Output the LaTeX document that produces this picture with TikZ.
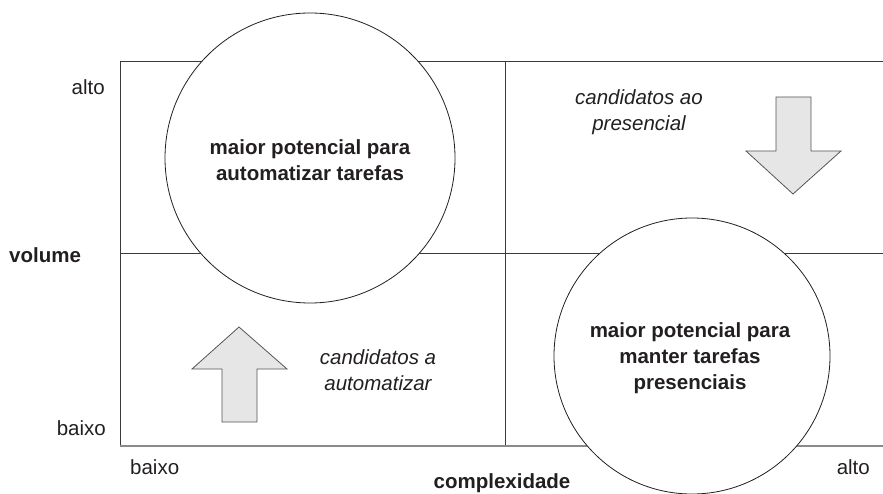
\documentclass[tikz,border=0pt]{standalone}
\usepackage{fontspec}
\setmainfont{Liberation Sans}
\definecolor{ink}{HTML}{231F20}
\definecolor{gridc}{HTML}{3A3A3A}
\definecolor{axisc}{HTML}{8A8A8A}
\definecolor{arrowfill}{HTML}{E6E6E6}
\definecolor{arrowline}{HTML}{555555}
\begin{document}
\begin{tikzpicture}[x=1pt,y=-1pt,
  txt/.style={font=\fontsize{20.5}{26}\selectfont, text=ink, inner sep=0pt, align=center},
  btxt/.style={txt, font=\fontsize{20.5}{26}\selectfont\bfseries},
  itxt/.style={txt, font=\fontsize{20.5}{26}\selectfont\itshape},
  gridline/.style={draw=gridc, line width=0.8pt},
  axisline/.style={draw=axisc, line width=2pt},
  bigcircle/.style={circle, draw=ink, line width=0.8pt, fill=white, inner sep=0pt},
  bigarrow/.style={draw=arrowline, fill=arrowfill, line width=0.8pt, line join=miter}
]
\useasboundingbox (0,0) rectangle (883,494);
% grid
\coordinate (TL) at (120,61);
\coordinate (TR) at (883,61);
\coordinate (ML) at (120,253);
\coordinate (MR) at (883,253);
\coordinate (BL) at (120,446);
\coordinate (BR) at (883,446);
\coordinate (VT) at (505,61);
\coordinate (VB) at (505,446);
\draw[gridline] (TL) -- (TR);
\draw[gridline] (ML) -- (MR);
\draw[gridline] (TL) -- (BL);
\draw[gridline] (VT) -- (VB);
\draw[axisline] (BL) -- (BR);
% circles
\node[bigcircle, minimum size=290pt] (c1) at (310,158) {};
\node[btxt] (c1t) at (310,160) {maior potencial para\\automatizar tarefas};
\node[bigcircle, minimum size=276pt] (c2) at (692,356) {};
\node[btxt] (c2t) at (690,358) {maior potencial para\\manter tarefas\\presenciais};
% arrows
\draw[bigarrow] (239,327) -- (287,369) -- (257,369) -- (257,422) -- (222,422) -- (222,369) -- (192,369) -- cycle;
\draw[bigarrow] (793,194) -- (841,151) -- (811,151) -- (811,97) -- (776,97) -- (776,151) -- (746,151) -- cycle;
% quadrant labels
\node[itxt] (qa) at (639,112) {candidatos ao\\presencial};
\node[itxt] (qb) at (378,370) {candidatos a\\automatizar};
% axis labels
\node[txt, anchor=east] (va) at (105,87) {alto};
\node[btxt, anchor=west] (vol) at (9,255) {volume};
\node[txt, anchor=east] (vb) at (106,428) {baixo};
\node[txt, anchor=west] (hb) at (130,467) {baixo};
\node[btxt] (cx) at (502,483) {complexidade};
\node[txt, anchor=east] (ha) at (870,467) {alto};
\end{tikzpicture}
\end{document}
